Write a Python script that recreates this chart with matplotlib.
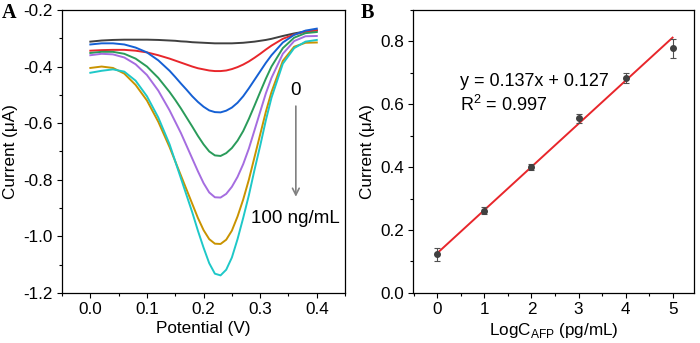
import numpy as np
import matplotlib.pyplot as plt
from matplotlib.ticker import MultipleLocator

plt.rcParams['font.family'] = ['Liberation Sans', 'DejaVu Sans']
plt.rcParams['font.size'] = 12.3

# panel A: DPV curves, potential (V) vs current (uA)
potential = [0.00, 0.02, 0.04, 0.06, 0.08, 0.10, 0.12, 0.14, 0.15, 0.16, 0.17, 0.18, 0.19, 0.20,
             0.21, 0.22, 0.23, 0.24, 0.25, 0.26, 0.27, 0.28, 0.29, 0.30, 0.31, 0.32, 0.34, 0.36,
             0.38, 0.40]
cur_black = [-0.312, -0.308, -0.306, -0.305, -0.305, -0.305, -0.306, -0.308, -0.309, -0.311,
             -0.312, -0.314, -0.315, -0.316, -0.317, -0.318, -0.318, -0.318, -0.318, -0.317,
             -0.316, -0.314, -0.312, -0.309, -0.306, -0.302, -0.292, -0.283, -0.276, -0.272]
cur_red = [-0.344, -0.342, -0.341, -0.341, -0.344, -0.350, -0.360, -0.372, -0.379, -0.386,
           -0.393, -0.400, -0.406, -0.410, -0.414, -0.416, -0.416, -0.414, -0.409, -0.402,
           -0.393, -0.382, -0.369, -0.355, -0.340, -0.326, -0.302, -0.287, -0.277, -0.272]
cur_blue = [-0.322, -0.318, -0.318, -0.322, -0.333, -0.350, -0.378, -0.415, -0.437, -0.460,
            -0.482, -0.505, -0.525, -0.542, -0.555, -0.561, -0.562, -0.556, -0.545, -0.528,
            -0.505, -0.477, -0.447, -0.417, -0.387, -0.360, -0.315, -0.288, -0.273, -0.266]
cur_green = [-0.352, -0.348, -0.348, -0.355, -0.372, -0.400, -0.440, -0.490, -0.518, -0.548,
             -0.580, -0.612, -0.645, -0.675, -0.700, -0.714, -0.716, -0.706, -0.688, -0.662,
             -0.628, -0.585, -0.538, -0.490, -0.443, -0.400, -0.335, -0.298, -0.282, -0.278]
cur_purple = [-0.360, -0.355, -0.357, -0.368, -0.392, -0.430, -0.485, -0.555, -0.595, -0.635,
              -0.680, -0.725, -0.770, -0.812, -0.845, -0.862, -0.863, -0.850, -0.825, -0.790,
              -0.745, -0.690, -0.625, -0.560, -0.495, -0.440, -0.355, -0.310, -0.293, -0.292]
cur_orange = [-0.405, -0.400, -0.405, -0.425, -0.465, -0.520, -0.595, -0.685, -0.735, -0.785,
              -0.835, -0.885, -0.935, -0.978, -1.010, -1.026, -1.027, -1.012, -0.980, -0.930,
              -0.870, -0.800, -0.720, -0.640, -0.560, -0.490, -0.380, -0.330, -0.316, -0.315]
cur_cyan = [-0.422, -0.415, -0.410, -0.418, -0.450, -0.505, -0.580, -0.675, -0.735, -0.795,
            -0.855, -0.915, -0.980, -1.040, -1.095, -1.132, -1.138, -1.118, -1.075, -1.010,
            -0.935, -0.855, -0.765, -0.680, -0.590, -0.510, -0.390, -0.335, -0.312, -0.306]

curves = [cur_black, cur_red, cur_blue, cur_green, cur_purple, cur_orange, cur_cyan]
colors = ['#404040', '#e8262b', '#1560d4', '#2a9b5a', '#a56de0', '#c99300', '#1ec8c8']

# panel B: calibration
log_c = [0, 1, 2, 3, 4, 5]
current = [0.123, 0.262, 0.400, 0.555, 0.683, 0.778]
current_err = [0.020, 0.012, 0.010, 0.015, 0.015, 0.030]
slope, intercept = 0.137, 0.127

fig = plt.figure(figsize=(7, 3.43), dpi=100)
axA = fig.add_axes([0.0886, 0.146, 0.4044, 0.825])
axB = fig.add_axes([0.590, 0.146, 0.401, 0.825])

for cur, c in zip(curves, colors):
    axA.plot(potential, cur, color=c, lw=1.4, solid_joinstyle='round')

axA.set_xlim(-0.05, 0.45)
axA.set_ylim(-1.2, -0.2)
axA.xaxis.set_major_locator(MultipleLocator(0.1))
axA.xaxis.set_minor_locator(MultipleLocator(0.05))
axA.yaxis.set_major_locator(MultipleLocator(0.2))
axA.yaxis.set_minor_locator(MultipleLocator(0.1))
axA.xaxis.set_major_formatter(plt.FuncFormatter(lambda v, p: f"{v:.1f}"))
axA.yaxis.set_major_formatter(plt.FuncFormatter(lambda v, p: f"{v:.1f}"))
axA.set_xlabel("Potential (V)", labelpad=3)
axA.set_ylabel("Current (\u03bcA)", labelpad=4)
axA.annotate("", xy=(0.363, -0.87), xytext=(0.363, -0.53),
             arrowprops=dict(arrowstyle='->', color='#808080', lw=1.2, mutation_scale=12))
axA.text(0.363, -0.485, "0", ha='center', va='center', fontsize=13.5)
axA.text(0.363, -0.937, "100 ng/mL", ha='center', va='center', fontsize=13.5)

xfit = np.array([log_c[0], log_c[-1]])
axB.plot(xfit, slope * xfit + intercept, color='#e8262b', lw=1.4)
axB.errorbar(log_c, current, yerr=current_err, fmt='o', color='#404040', ms=4,
             ecolor='#505050', elinewidth=0.8, capsize=2.5, capthick=0.8)
axB.set_xlim(-0.52, 5.45)
axB.set_ylim(0, 0.9)
axB.xaxis.set_major_locator(MultipleLocator(1))
axB.xaxis.set_minor_locator(MultipleLocator(0.5))
axB.yaxis.set_major_locator(MultipleLocator(0.2))
axB.yaxis.set_minor_locator(MultipleLocator(0.1))
axB.yaxis.set_major_formatter(plt.FuncFormatter(lambda v, p: f"{v:.1f}"))
axB.set_xlabel("LogC$_{\\mathregular{AFP}}$ (pg/mL)", labelpad=3)
axB.set_ylabel("Current (\u03bcA)", labelpad=4)
axB.text(0.47, 0.672, "y = 0.137x + 0.127", va='center', fontsize=13)
axB.text(0.47, 0.598, "R$^{\\mathregular{2}}$ = 0.997", va='center', fontsize=13)

for ax in (axA, axB):
    ax.tick_params(which='major', direction='out', length=3.5, width=0.8, pad=3)
    ax.tick_params(which='minor', direction='out', length=2, width=0.8)
    for s in ax.spines.values():
        s.set_linewidth(0.9)

fig.text(0.003, 0.962, "A", fontsize=14.5, fontweight='bold', family='Liberation Serif', va='center')
fig.text(0.515, 0.962, "B", fontsize=14.5, fontweight='bold', family='Liberation Serif', va='center')

fig.savefig("out.png", dpi=100)
